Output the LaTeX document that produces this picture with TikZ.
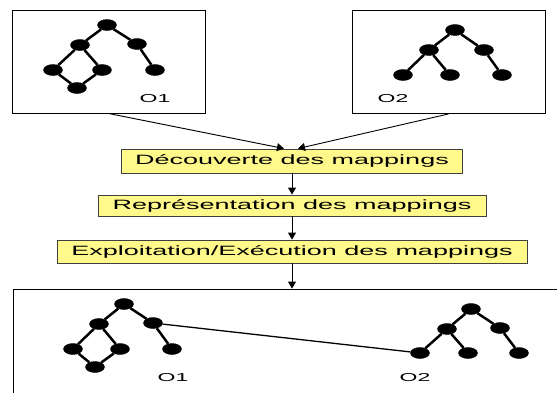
\documentclass[tikz,border=0pt]{standalone}
\usepackage{fontspec}
\setmainfont{Liberation Sans}[FakeStretch=2]
\usetikzlibrary{shapes.geometric,arrows.meta}

\tikzset{
  dot/.style={draw, ellipse, fill=black, minimum width=19pt, minimum height=11pt, inner sep=0pt},
  edge/.style={line width=2.5pt},
  ontobox/.style={draw, line width=0.9pt, minimum width=193pt, minimum height=103pt},
  stepbox/.style={draw=black!75, fill=yellow!45, line width=0.9pt, inner sep=0pt,
    font=\fontsize{13.5}{16}\selectfont},
  ontoname/.style={inner sep=0pt, font=\fontsize{11.5}{13}\selectfont}
}

\begin{document}
\begin{tikzpicture}[x=1pt, y=-1pt, >={Triangle[length=7pt,width=8pt]}]
    \useasboundingbox (0,0) rectangle (557,392);
    \clip (0,0) rectangle (557,392);

    % the two ontologies
    \node[ontobox] (onto1) at (108.5,61.5) {};
    \node[ontobox] (onto2) at (448.5,62) {};

    % the three steps
    \node[stepbox, minimum width=341pt, minimum height=24pt] (decouv) at (292,161) {Découverte des mappings};
    \node[stepbox, minimum width=388pt, minimum height=21pt] (repr) at (292,205.5) {Représentation des mappings};
    \node[stepbox, minimum width=470pt, minimum height=23pt] (exec) at (292,251.5) {Exploitation/Exécution des mappings};

    % result, cut by the border
    \node[draw, line width=0.9pt, minimum width=558pt, minimum height=111pt] (result) at (292,344.5) {};

    \draw[->, line width=0.9pt] (onto1.south) -- ([xshift=-8pt]decouv.north);
    \draw[->, line width=0.9pt] (onto2.south) -- ([xshift=6pt]decouv.north);
    \draw[->, line width=1pt] (decouv) -- (repr);
    \draw[->, line width=1pt] (repr) -- (exec);
    \draw[->, line width=1pt] (exec) -- (result);

    % O1, top
    \node[dot] (ta0) at (107,25) {};
    \node[dot] (ta1) at (80,45) {};
    \node[dot] (ta2) at (137,44) {};
    \node[dot] (ta3) at (53,70) {};
    \node[dot] (ta4) at (102,70) {};
    \node[dot] (ta5) at (155,70) {};
    \node[dot] (ta6) at (77,88) {};
    \draw[edge] (ta0) -- (ta1) -- (ta3) -- (ta6) -- (ta4) -- (ta1);
    \draw[edge] (ta0) -- (ta2) -- (ta5);
    \node[ontoname] (na) at (155,99) {O1};

    % O2, top
    \node[dot] (tb0) at (455,30) {};
    \node[dot] (tb1) at (429,50) {};
    \node[dot] (tb2) at (484,50) {};
    \node[dot] (tb3) at (403,75) {};
    \node[dot] (tb4) at (450,75) {};
    \node[dot] (tb5) at (502,75) {};
    \draw[edge] (tb3) -- (tb1) -- (tb4);
    \draw[edge] (tb1) -- (tb0) -- (tb2) -- (tb5);
    \node[ontoname] (nb) at (393,99) {O2};

    % O1, bottom
    \node[dot] (ba0) at (124,304) {};
    \node[dot] (ba1) at (99,324) {};
    \node[dot] (ba2) at (153,323) {};
    \node[dot] (ba3) at (73,349) {};
    \node[dot] (ba4) at (120,349) {};
    \node[dot] (ba5) at (172,349) {};
    \node[dot] (ba6) at (95,367) {};
    \draw[edge] (ba0) -- (ba1) -- (ba3) -- (ba6) -- (ba4) -- (ba1);
    \draw[edge] (ba0) -- (ba2) -- (ba5);
    \node[ontoname] (nc) at (173,378) {O1};

    % O2, bottom
    \node[dot] (bb0) at (471,309) {};
    \node[dot] (bb1) at (447,329) {};
    \node[dot] (bb2) at (500,328) {};
    \node[dot] (bb3) at (420,353) {};
    \node[dot] (bb4) at (468,353) {};
    \node[dot] (bb5) at (519,353) {};
    \draw[edge] (bb3) -- (bb1) -- (bb4);
    \draw[edge] (bb1) -- (bb0) -- (bb2) -- (bb5);
    \node[ontoname] (nd) at (415,378) {O2};

    % the mapping
    \draw[line width=1.3pt] (ba2) -- (bb3);
\end{tikzpicture}
\end{document}
